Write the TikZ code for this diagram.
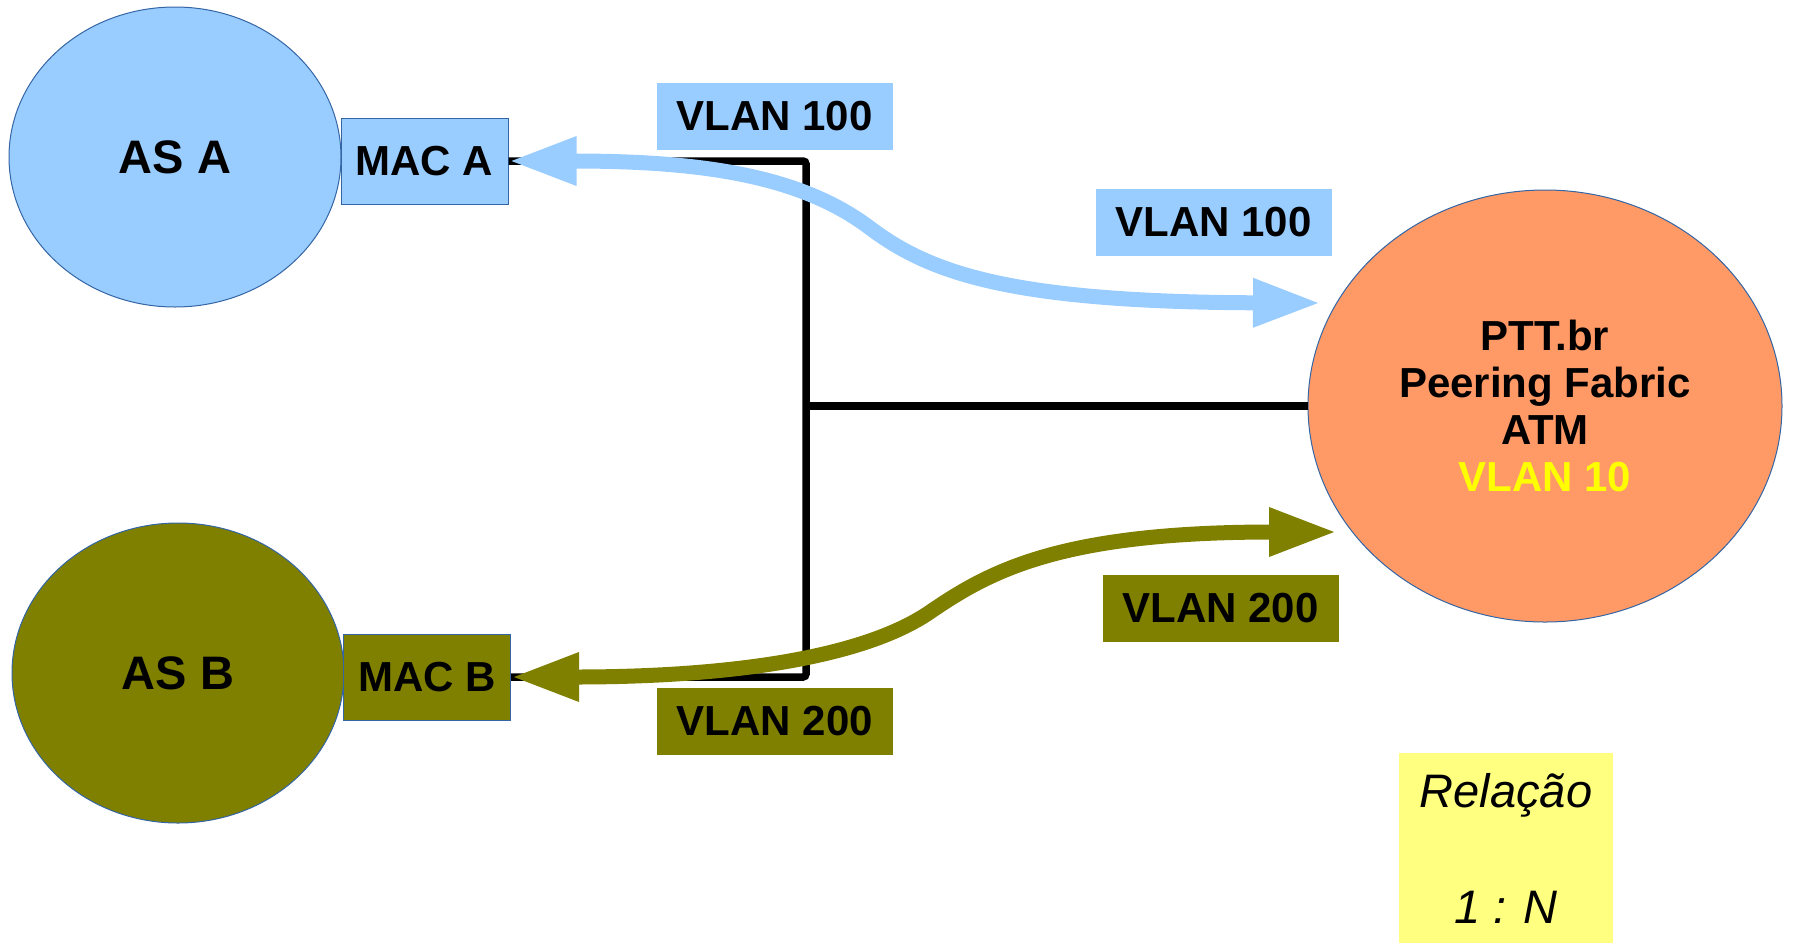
\documentclass[tikz,border=0pt]{standalone}
\usepackage{fontspec}
\setmainfont{Liberation Sans}
\usetikzlibrary{arrows.meta,shapes.geometric}

\definecolor{asblue}{HTML}{99CCFF}
\definecolor{asolive}{HTML}{808000}
\definecolor{pttorange}{HTML}{FF9966}
\definecolor{relyellow}{HTML}{FFFF80}
\definecolor{edgeblue}{HTML}{3465A4}
\definecolor{vlanyellow}{HTML}{FFFF00}

\begin{document}
\begin{tikzpicture}[x=0.5pt,y=-0.5pt,
  >={Triangle[length=34pt,width=22.5pt]},
  asnode/.style={ellipse,draw=edgeblue,line width=0.5pt,minimum width=166pt,minimum height=150pt,inner sep=0pt,font=\fontsize{23.5}{28}\selectfont\bfseries},
  macbox/.style={rectangle,draw=edgeblue,line width=0.5pt,minimum width=83.5pt,minimum height=43pt,inner sep=0pt,font=\fontsize{21}{25}\selectfont\bfseries},
  vlanbox/.style={rectangle,minimum width=118pt,minimum height=33.5pt,inner sep=0pt,font=\fontsize{21}{25}\selectfont\bfseries},
  bus/.style={line width=3.75pt,rounded corners=1.5pt},
  vlanarrow/.style={line width=7.5pt,<->}]
\useasboundingbox (0,0) rectangle (1793,943);

% autonomous systems and their ports
\node (asa) [asnode, fill=asblue] at (175,157) {AS A};
\node (asb) [asnode, fill=asolive] at (178,673) {AS B};
\node (maca) [macbox, fill=asblue] at (424.5,161) {MAC A};
\node (macb) [macbox, fill=asolive] at (427,677) {MAC B};

% fabric
\node (ptt) [ellipse, draw=edgeblue, line width=0.5pt, fill=pttorange, minimum width=237pt, minimum height=216pt,
  inner sep=0pt, align=center, font=\fontsize{21}{23.5}\selectfont\bfseries] at (1545,406)
  {PTT.br\\Peering Fabric\\ATM\\\textcolor{vlanyellow}{VLAN 10}};

% vlan labels
\node (vlanAleft) [vlanbox, fill=asblue] at (774.5,116.5) {VLAN 100};
\node (vlanAright) [vlanbox, fill=asblue] at (1213.5,222.5) {VLAN 100};
\node (vlanBleft) [vlanbox, fill=asolive] at (775,721.5) {VLAN 200};
\node (vlanBright) [vlanbox, fill=asolive] at (1220.5,608) {VLAN 200};

\node (rel) [rectangle, fill=relyellow, minimum width=107pt, minimum height=95pt, inner sep=0pt,
  align=center, font=\fontsize{23.5}{28}\selectfont\itshape] at (1506,848) {Relação\\[30pt]1 : N};

% physical links
\coordinate (hub) at (806,406);
\draw [bus] (maca.east) -| (hub) |- (macb.east);
\draw [bus] (hub) -- (ptt.west);

% vlan paths
\coordinate (tipA) at (1321,303);
\coordinate (tipB) at (1337,532);
\draw [vlanarrow, draw=asblue] (maca.east) .. controls (700,161) and (800,175) .. (870,228)
  .. controls (930,273) and (1010,302) .. (tipA);
\draw [vlanarrow, draw=asolive] (macb.east) .. controls (720,677) and (860,660) .. (930,612)
  .. controls (990,571) and (1060,532) .. (tipB);
\end{tikzpicture}
\end{document}
